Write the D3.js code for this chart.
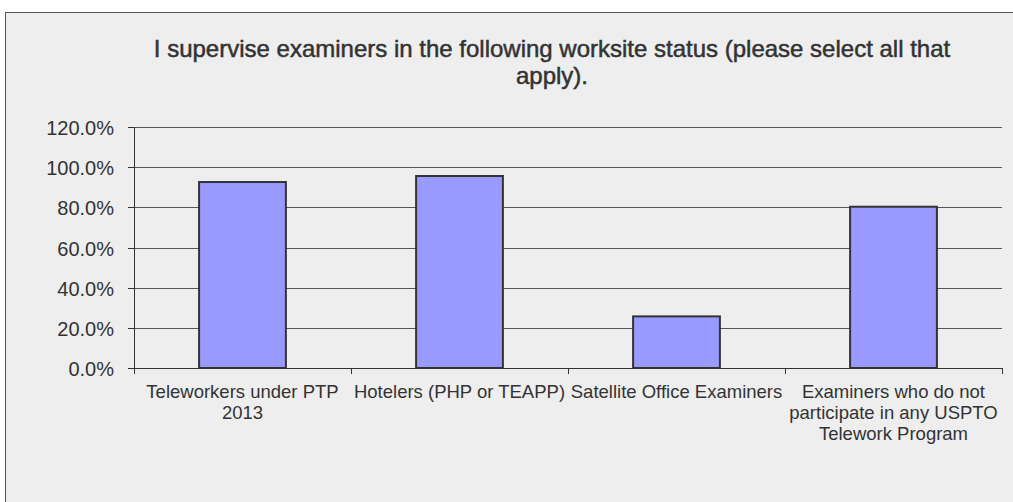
<!DOCTYPE html>
<html>
<head>
<meta charset="utf-8">
<script src="https://cdn.jsdelivr.net/npm/d3@7"></script>
<style>
body { margin: 0; background: #fff; }
text { font-family: "Liberation Sans", Arial, sans-serif; fill: #333; }
</style>
</head>
<body>
<div id="chart"></div>
<script>
// data
var categories = [
	'Teleworkers under PTP 2013',
	'Hotelers (PHP or TEAPP)',
	'Satellite Office Examiners',
	'Examiners who do not participate in any USPTO Telework Program'
];
var values = [92.6, 95.6, 25.7, 80.3];
var yTicks = [0, 20, 40, 60, 80, 100, 120];
var titleLines = [
	'I supervise examiners in the following worksite status (please select all that',
	'apply).'
];

var W = 1013, H = 502;
var margin = { top: 127, right: 11, bottom: 134, left: 134 };
var width = W - margin.left - margin.right;
var height = H - margin.top - margin.bottom;

var svg = d3.select('#chart').append('svg')
	.attr('width', W)
	.attr('height', H);

// background panel
svg.append('rect')
	.attr('x', 5.5).attr('y', 12.5)
	.attr('width', 1030).attr('height', 520)
	.attr('fill', '#eeeeee')
	.attr('stroke', '#555');

// title
svg.selectAll('.title')
	.data(titleLines)
	.enter().append('text')
		.attr('x', 552)
		.attr('y', function(d, i) { return 57 + i * 26.5; })
		.attr('text-anchor', 'middle')
		.style('font-size', '24px')
		.style('stroke', '#333')
		.style('stroke-width', 0.5)
		.text(function(d) { return d; });

var g = svg.append('g')
	.attr('transform', 'translate(' + margin.left + ',' + margin.top + ')');

var x = d3.scaleBand()
	.domain(categories)
	.range([0, width])
	.paddingInner(0.6)
	.paddingOuter(0.3);

var xTicks = d3.scaleBand()
	.domain(categories)
	.range([0, width]);

var y = d3.scaleLinear()
	.domain([0, 120])
	.range([height, 0]);

// gridlines
g.selectAll('.grid')
	.data(yTicks.slice(1))
	.enter().append('line')
		.attr('x1', 0).attr('x2', width)
		.attr('y1', function(d) { return Math.round(y(d)) + 0.5; })
		.attr('y2', function(d) { return Math.round(y(d)) + 0.5; })
		.attr('stroke', '#555');

// bars
g.selectAll('.bar')
	.data(values)
	.enter().append('rect')
		.attr('x', function(d, i) { return x(categories[i]); })
		.attr('y', function(d) { return y(d); })
		.attr('width', x.bandwidth())
		.attr('height', function(d) { return height - y(d); })
		.attr('fill', '#9999ff')
		.attr('stroke', '#333')
		.attr('stroke-width', 2);

// y axis
g.append('line')
	.attr('x1', 0.5).attr('x2', 0.5)
	.attr('y1', 0).attr('y2', height + 5)
	.attr('stroke', '#333');
g.selectAll('.ytick')
	.data(yTicks)
	.enter().append('line')
		.attr('x1', -6).attr('x2', 0)
		.attr('y1', function(d) { return Math.round(y(d)) + 0.5; })
		.attr('y2', function(d) { return Math.round(y(d)) + 0.5; })
		.attr('stroke', '#333');
g.selectAll('.ylab')
	.data(yTicks)
	.enter().append('text')
		.attr('x', -20)
		.attr('y', function(d) { return y(d) + 8; })
		.attr('text-anchor', 'end')
		.style('font-size', '20px')
		.text(function(d) { return d3.format('.1f')(d) + '%'; });

// x axis
g.append('line')
	.attr('x1', 0).attr('x2', width)
	.attr('y1', height + 0.5).attr('y2', height + 0.5)
	.attr('stroke', '#333');
g.selectAll('.xtick')
	.data(categories.concat(['end']))
	.enter().append('line')
		.attr('x1', function(d, i) { return Math.round(i * xTicks.step()) + 0.5; })
		.attr('x2', function(d, i) { return Math.round(i * xTicks.step()) + 0.5; })
		.attr('y1', height).attr('y2', height + 6)
		.attr('stroke', '#333');

function wrap(words, maxW, size) {
	var tmp = svg.append('text').style('font-size', size + 'px');
	var lines = [], line = [];
	words.forEach(function(w) {
		line.push(w);
		tmp.text(line.join(' '));
		if (tmp.node().getComputedTextLength() > maxW && line.length > 1) {
			line.pop();
			lines.push(line.join(' '));
			line = [w];
		}
	});
	lines.push(line.join(' '));
	tmp.remove();
	return lines;
}

categories.forEach(function(c) {
	var cx = xTicks(c) + xTicks.bandwidth() / 2;
	var lines = wrap(c.split(' '), xTicks.bandwidth(), 18.5);
	g.selectAll(null)
		.data(lines)
		.enter().append('text')
			.attr('x', cx)
			.attr('y', function(d, i) { return height + 30 + i * 21; })
			.attr('text-anchor', 'middle')
			.style('font-size', '18.5px')
			.text(function(d) { return d; });
});
</script>
</body>
</html>
